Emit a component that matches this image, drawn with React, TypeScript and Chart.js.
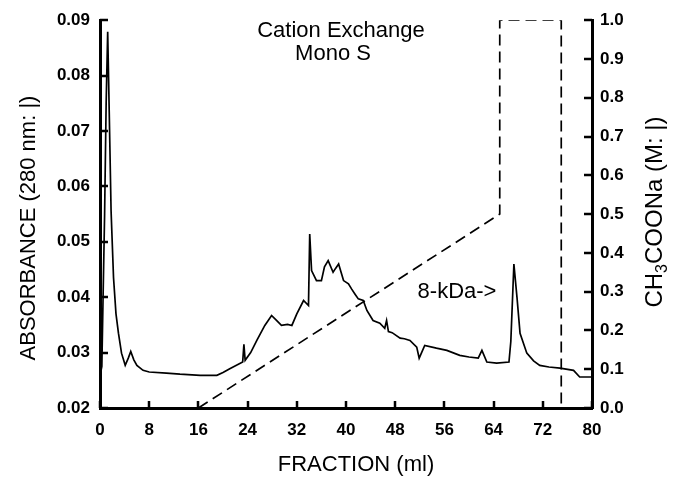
import React, { useEffect, useRef } from "react";
import { Chart, registerables } from "chart.js";

Chart.register(...registerables);

// Fraction (ml) values of the absorbance trace
const absX = [
  0, 0.3, 0.5, 0.75, 1.0, 1.25, 1.5, 1.8, 2.2, 2.6, 3.0, 3.5, 4.1, 4.6, 5.0, 5.5, 6.0, 7.0, 8.0, 10.8,
  13, 16.3, 19, 20, 21.1, 23.2, 23.4, 23.6, 24.5, 25.5, 26.8, 27.9, 28.7, 29.5, 30.5, 31.2, 32, 33.1,
  33.9, 34.1, 34.4, 35.2, 36.0, 36.5, 37.1, 37.9, 38.3, 38.8, 39.6, 40.4, 40.9, 41.5, 42.0, 42.8, 43.4,
  44.4, 45.5, 46.3, 46.6, 46.9, 47.5, 48.8, 49.5, 50.4, 51.5, 51.9, 52.8, 54.7, 56.4, 58.5, 60, 61.5,
  62.1, 62.9, 64.5, 66.5, 66.8, 67.3, 67.8, 68.3, 69.4, 70.5, 71.5, 73, 74.8, 77, 78, 80,
];
// Absorbance at 280 nm
const absY = [
  0.0258, 0.0275, 0.04, 0.055, 0.075, 0.0879, 0.0735, 0.0556, 0.0435, 0.037, 0.0335, 0.0299, 0.0277,
  0.029, 0.0302, 0.0287, 0.0277, 0.0268, 0.0265, 0.0263, 0.0261, 0.0259, 0.0259, 0.0264, 0.0271,
  0.0283, 0.0315, 0.0286, 0.03, 0.0322, 0.0349, 0.0367, 0.0358, 0.0349, 0.0351, 0.0349, 0.037, 0.0394,
  0.0385, 0.0514, 0.0448, 0.043, 0.043, 0.0455, 0.0466, 0.0445, 0.0452, 0.046, 0.043, 0.0424, 0.0415,
  0.0405, 0.0397, 0.0394, 0.0376, 0.0358, 0.0353, 0.0344, 0.0358, 0.0338, 0.0336, 0.0326, 0.0325,
  0.0322, 0.031, 0.029, 0.0313, 0.0308, 0.0304, 0.0295, 0.0292, 0.029, 0.0304, 0.0283, 0.0281, 0.0283,
  0.032, 0.046, 0.04, 0.0335, 0.0299, 0.0285, 0.0277, 0.0274, 0.0272, 0.0268, 0.0256, 0.0256,
];

// Salt gradient (CH3COONa, M)
const gradX = [16, 65, 65, 75, 75];
const gradY = [0, 0.5, 1.0, 1.0, 0];

// Axis tick settings
const xTicks = [0, 8, 16, 24, 32, 40, 48, 56, 64, 72, 80];
const yLeftTicks = [0.02, 0.03, 0.04, 0.05, 0.06, 0.07, 0.08, 0.09];
const yRightTicks = [0, 0.1, 0.2, 0.3, 0.4, 0.5, 0.6, 0.7, 0.8, 0.9, 1.0];

const FONT = "'Liberation Sans', Arial, Helvetica, sans-serif";

const textPlugin = {
  id: "textPlugin",
  afterDraw(chart: any) {
    const ctx = chart.ctx as CanvasRenderingContext2D;
    const xs = chart.scales.x;
    const yl = chart.scales.y;
    const yr = chart.scales.y2;
    ctx.save();
    ctx.strokeStyle = "#000";
    ctx.lineWidth = 2.5;
    // inward tick marks
    ctx.beginPath();
    xTicks.forEach((v) => {
      const p = Math.round(xs.getPixelForValue(v));
      ctx.moveTo(p, chart.chartArea.bottom);
      ctx.lineTo(p, chart.chartArea.bottom - 7);
    });
    yLeftTicks.forEach((v) => {
      const p = Math.round(yl.getPixelForValue(v));
      ctx.moveTo(chart.chartArea.left, p);
      ctx.lineTo(chart.chartArea.left + 8, p);
    });
    yRightTicks.forEach((v) => {
      const p = Math.round(yr.getPixelForValue(v));
      ctx.moveTo(chart.chartArea.right, p);
      ctx.lineTo(chart.chartArea.right - 8, p);
    });
    ctx.stroke();

    ctx.fillStyle = "#000";
    ctx.font = `22px ${FONT}`;
    ctx.textAlign = "center";
    ctx.textBaseline = "alphabetic";
    ctx.fillText("Cation Exchange", 341, 37);
    ctx.fillText("Mono S", 333, 60);
    ctx.textBaseline = "middle";
    ctx.fillText("8-kDa->", 457, 292);
    ctx.fillText("FRACTION (ml)", 356, 465);

    // left title
    ctx.save();
    ctx.translate(29, 228);
    ctx.rotate(-Math.PI / 2);
    ctx.fillText("ABSORBANCE (280 nm: |)", 0, 0);
    ctx.restore();

    // right title with subscript
    ctx.save();
    ctx.translate(655, 212);
    ctx.rotate(-Math.PI / 2);
    const big = `24px ${FONT}`;
    const small = `16px ${FONT}`;
    const p1 = "CH";
    const p2 = "3";
    const p3 = "COONa (M: |)";
    ctx.font = big;
    const w1 = ctx.measureText(p1).width;
    const w3 = ctx.measureText(p3).width;
    ctx.font = small;
    const w2 = ctx.measureText(p2).width;
    const total = w1 + w2 + w3;
    let x = -total / 2;
    ctx.textAlign = "left";
    ctx.font = big;
    ctx.fillText(p1, x, 0);
    x += w1;
    ctx.font = small;
    ctx.fillText(p2, x, 8);
    x += w2;
    ctx.font = big;
    ctx.fillText(p3, x, 0);
    ctx.restore();

    ctx.restore();
  },
};

export default function App() {
  const ref = useRef<HTMLCanvasElement>(null);
  useEffect(() => {
    document.body.style.margin = "0";
    const canvas = ref.current!;
    const tickFont = { family: FONT, size: 17, weight: "bold" as const };
    const chart = new Chart(canvas, {
      type: "line",
      data: {
        datasets: [
          {
            label: "Absorbance",
            data: absX.map((x, i) => ({ x, y: absY[i] })),
            yAxisID: "y",
            borderColor: "#000",
            borderWidth: 1.7,
            pointRadius: 0,
            tension: 0,
            fill: false,
          },
          {
            label: "CH3COONa",
            data: gradX.map((x, i) => ({ x, y: gradY[i] })),
            yAxisID: "y2",
            borderColor: "#000",
            borderWidth: 1.7,
            borderDash: [11, 6],
            pointRadius: 0,
            tension: 0,
            fill: false,
          },
        ],
      },
      options: {
        animation: false,
        responsive: false,
        maintainAspectRatio: false,
        layout: { padding: { top: 18, left: 0, right: 0, bottom: 0 } },
        plugins: { legend: { display: false }, tooltip: { enabled: false } },
        scales: {
          x: {
            type: "linear",
            min: 0,
            max: 80,
            afterBuildTicks: (s: any) => {
              s.ticks = xTicks.map((v) => ({ value: v }));
            },
            ticks: { font: tickFont, color: "#000", padding: 12, maxRotation: 0, autoSkip: false, callback: (v: any) => String(v) },
            grid: { display: false, drawTicks: false },
            border: { display: true, width: 3, color: "#000" },
            afterFit: (s: any) => {
              s.height = 74;
            },
          },
          y: {
            type: "linear",
            position: "left",
            min: 0.02,
            max: 0.09,
            afterBuildTicks: (s: any) => {
              s.ticks = yLeftTicks.map((v) => ({ value: v }));
            },
            ticks: { font: tickFont, color: "#000", padding: 10, autoSkip: false, callback: (v: any) => Number(v).toFixed(2) },
            grid: { display: false, drawTicks: false },
            border: { display: true, width: 3, color: "#000" },
            afterFit: (s: any) => {
              s.width = 100;
            },
          },
          y2: {
            type: "linear",
            position: "right",
            min: 0,
            max: 1,
            afterBuildTicks: (s: any) => {
              s.ticks = yRightTicks.map((v) => ({ value: v }));
            },
            ticks: { font: tickFont, color: "#000", padding: 8, autoSkip: false, callback: (v: any) => Number(v).toFixed(1) },
            grid: { display: false, drawTicks: false },
            border: { display: true, width: 3, color: "#000" },
            afterFit: (s: any) => {
              s.width = 87;
            },
          },
        },
      },
      plugins: [textPlugin],
    });
    return () => chart.destroy();
  }, []);
  return (
    <div style={{ width: 679, height: 482, position: "relative" }}>
      <canvas ref={ref} width={679} height={482} style={{ width: 679, height: 482, display: "block" }} />
    </div>
  );
}
